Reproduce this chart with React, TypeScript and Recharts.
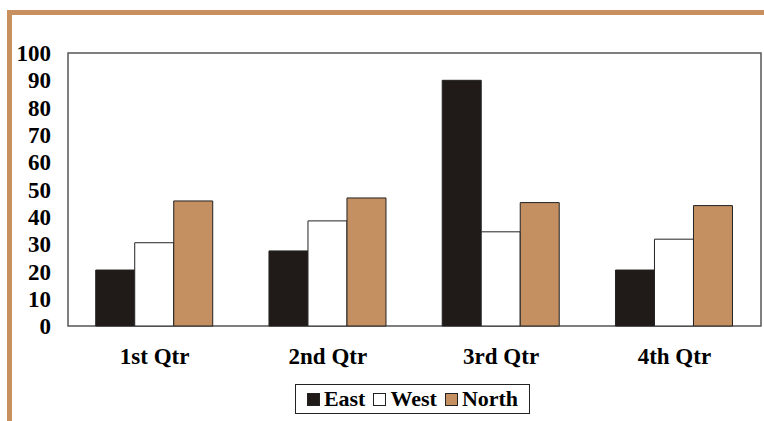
import { BarChart, Bar, XAxis, YAxis, Legend, ReferenceArea } from "recharts"

const quarters = ["1st Qtr", "2nd Qtr", "3rd Qtr", "4th Qtr"]
const east  = [20.5, 27.5, 90, 20.5]
const west  = [30.5, 38.5, 34.5, 31.8]
const north = [45.8, 46.9, 45.2, 44.1]
const yTicks = [0, 10, 20, 30, 40, 50, 60, 70, 80, 90, 100]

const series = [
    { key: "East",  color: "#201b18" },
    { key: "West",  color: "#ffffff" },
    { key: "North", color: "#c48f61" },
]

const data = quarters.map((q, i) => ({
    quarter: q,
    East:    east[i],
    West:    west[i],
    North:   north[i],
}))

const font = "'Liberation Serif', 'Times New Roman', serif"

function LegendBox() {
    return (
        <div style={{
            border: "1px solid #222", height: 30, boxSizing: "border-box",
            display: "flex", alignItems: "center", justifyContent: "center", gap: 8,
            fontFamily: font, fontWeight: "bold", fontSize: 22, color: "#000",
        }}>
            {series.map(s => (
                <span key={s.key} style={{ display: "flex", alignItems: "center", gap: 4 }}>
                    <span style={{ width: 11, height: 11, background: s.color, border: "1px solid #222", display: "inline-block" }} />
                    {s.key}
                </span>
            ))}
        </div>
    )
}

export default function App() {
    return (
        <div style={{ position: "fixed", left: 0, top: 0, width: 764, height: 421, background: "#fff", overflow: "hidden" }}>
            <div style={{
                position: "absolute", left: 7, top: 10, width: 800, height: 500,
                borderTop: "5px solid #c8905e", borderLeft: "5px solid #c8905e",
            }} />
            <div style={{ position: "absolute", left: 0, top: 0 }}>
                <BarChart
                    width={764} height={421} data={data}
                    margin={{ top: 53, right: 3, left: 8, bottom: 5 }}
                    barCategoryGap="16%" barGap={0}
                >
                    <ReferenceArea y1={0} y2={100} fill="none" stroke="#555" strokeWidth={1.5} />
                    <XAxis
                        dataKey="quarter" height={58}
                        axisLine={false} tickLine={false} tickSize={0} tickMargin={22}
                        tick={{ fill: "#000", fontSize: 23, fontWeight: "bold", fontFamily: font }}
                    />
                    <YAxis
                        width={60} domain={[0, 100]} ticks={yTicks} interval={0}
                        axisLine={false} tickLine={false} tickSize={0} tickMargin={17}
                        tick={{ fill: "#000", fontSize: 23, fontWeight: "bold", fontFamily: font }}
                    />
                    <Legend
                        verticalAlign="bottom"
                        content={() => <LegendBox />}
                        wrapperStyle={{ left: 295, width: 235, height: 32 }}
                    />
                    {series.map(s => (
                        <Bar key={s.key} dataKey={s.key} fill={s.color} stroke="#222" strokeWidth={1} isAnimationActive={false} />
                    ))}
                </BarChart>
            </div>
        </div>
    )
}
